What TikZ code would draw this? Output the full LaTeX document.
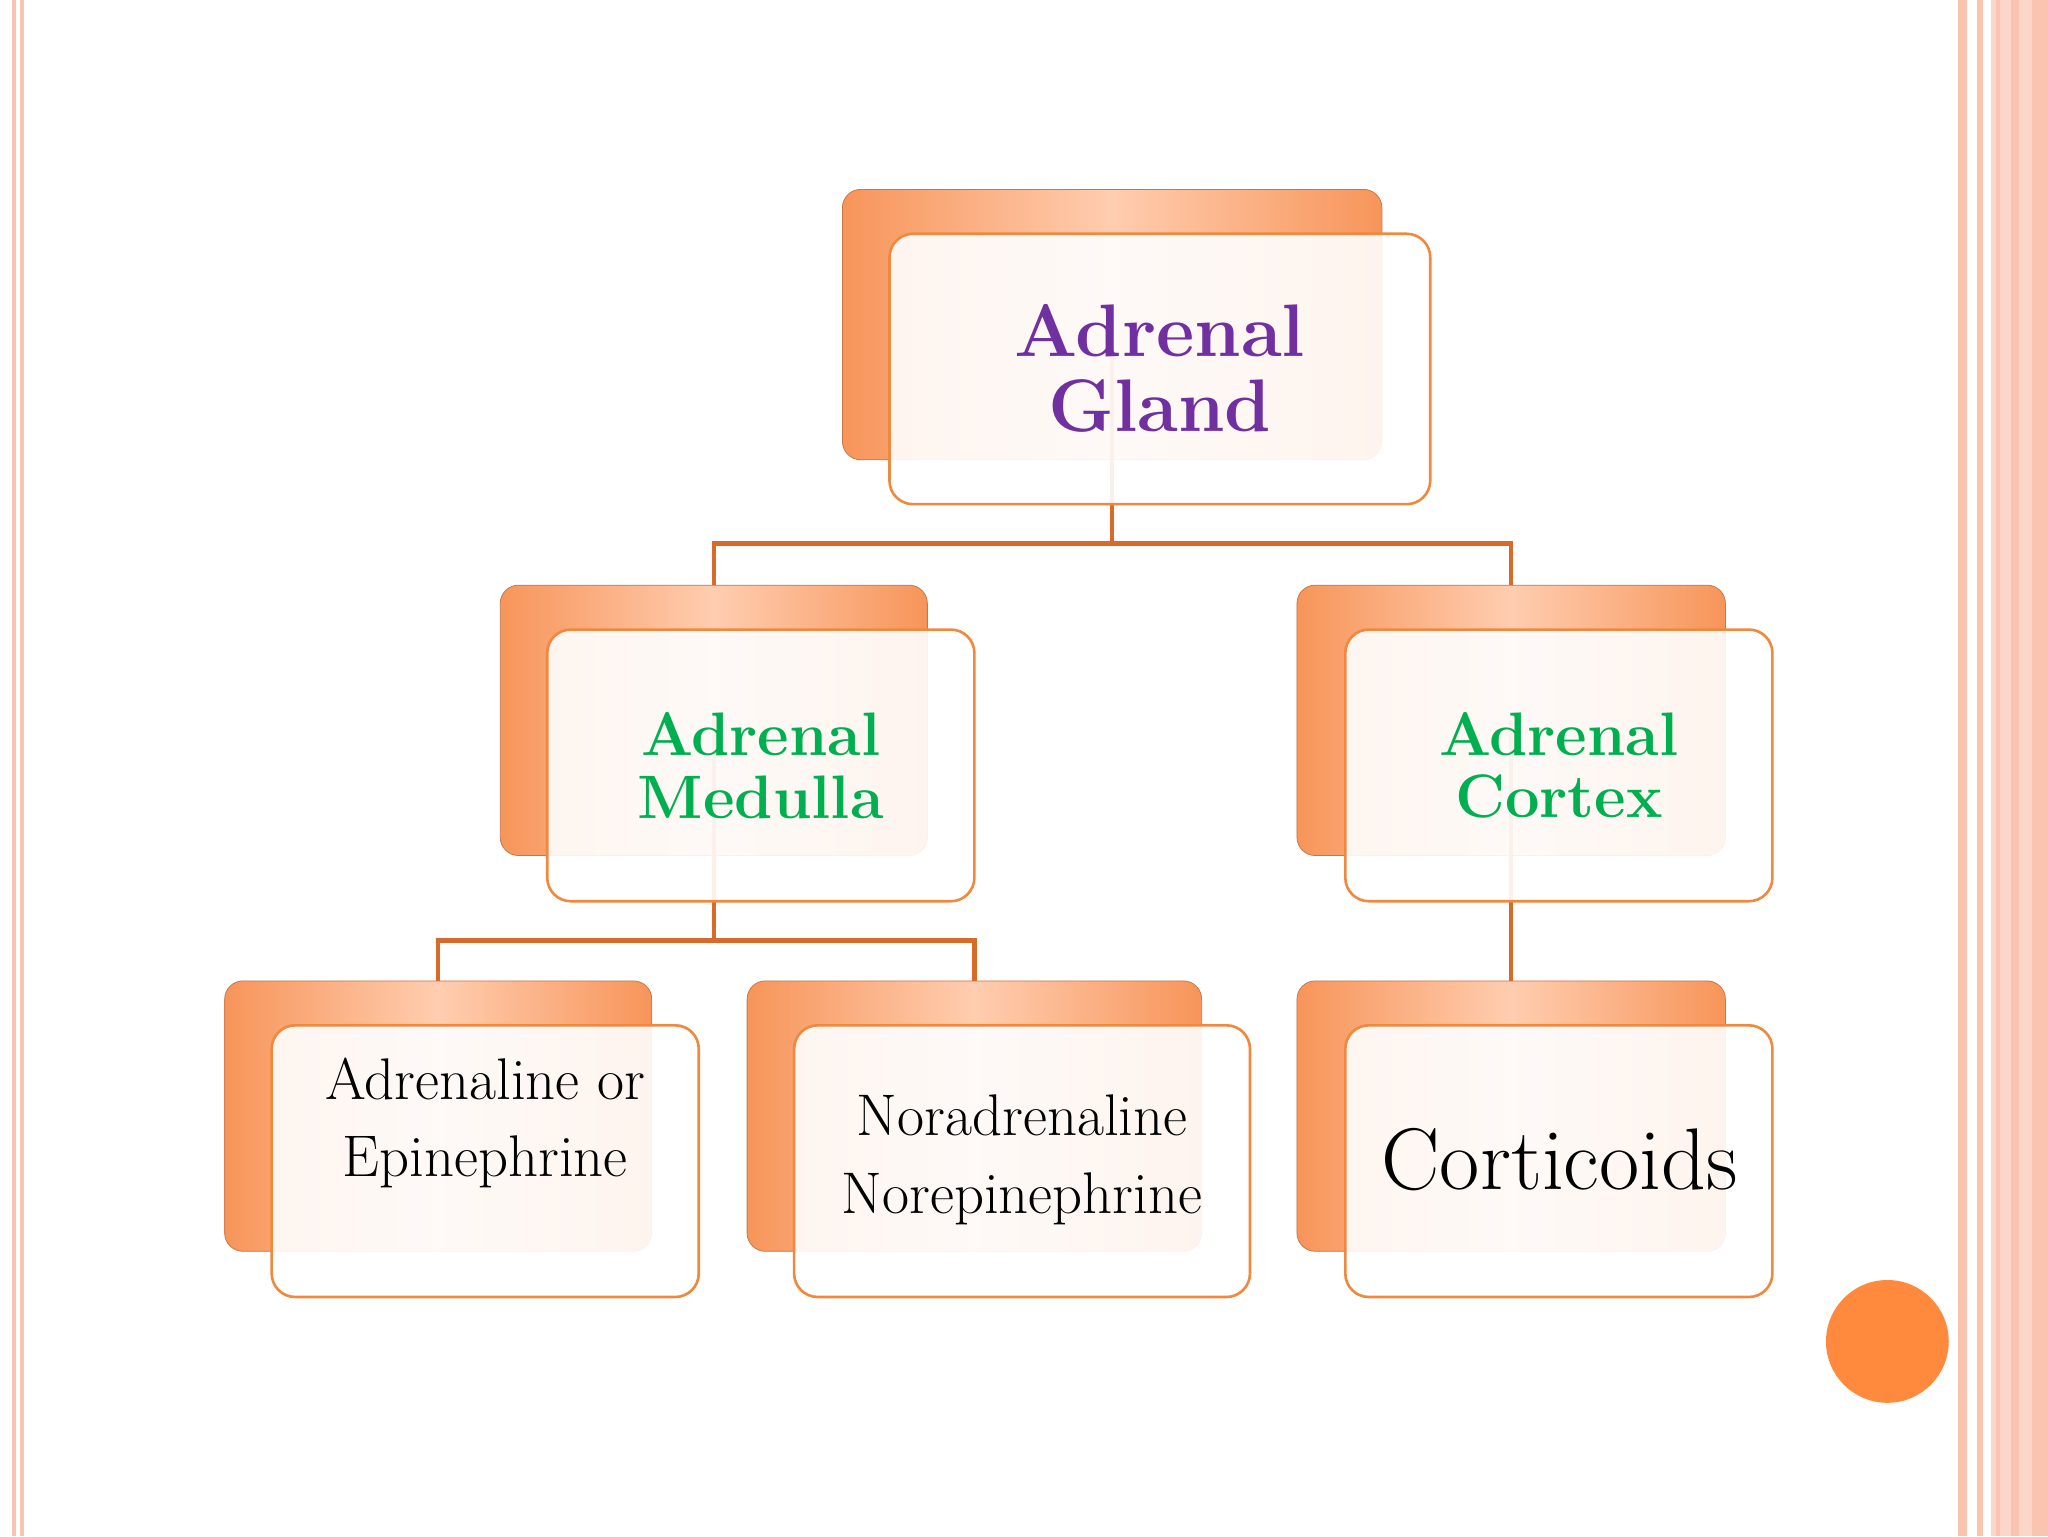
\documentclass[tikz,border=0pt]{standalone}
\usetikzlibrary{positioning}
\definecolor{bord}{HTML}{FBC4B0}
\definecolor{conn}{HTML}{D86B2A}
\definecolor{fedge}{HTML}{F0883E}
\definecolor{orA}{HTML}{F7955A}
\definecolor{orB}{HTML}{FFCDB0}
\definecolor{purp}{HTML}{7030A0}
\definecolor{grn}{HTML}{00B050}
\definecolor{dot}{HTML}{FF8A3D}
\tikzset{
  backbox/.style={rounded corners=14pt, left color=orA, right color=orA, middle color=orB, draw=orA!80!black, line width=0.6pt, inner sep=0pt},
  frontbox/.style={rounded corners=18pt, fill=white, fill opacity=0.9, draw=fedge, line width=2pt, text opacity=1, inner sep=0pt, align=center},
  conline/.style={draw=conn, line width=3.5pt},
  txt/.style={inner sep=0pt, align=center},
}
\begin{document}
\begin{tikzpicture}[x=1pt,y=-1pt]
\useasboundingbox (0,0) rectangle (1568,1176);
\fill[white] (0,0) rectangle (1568,1176);
% borders
\fill[bord] (9,0) rectangle (12,1176);
\fill[bord] (15,0) rectangle (18,1176);
\fill[bord] (1499,0) rectangle (1506,1176);
\fill[bord] (1514,0) rectangle (1518,1176);
\fill[bord!70] (1524,0) rectangle (1568,1176);
\fill[bord] (1528,0) rectangle (1531,1176);
\fill[bord] (1540,0) rectangle (1546,1176);
\fill[bord] (1556,0) rectangle (1568,1176);
\fill[dot] (1445,1027) circle (47);
% back boxes
\node[backbox, minimum width=413, minimum height=207] (b1) at (851.5,248.5) {};
\node[backbox, minimum width=327, minimum height=207] (b2) at (546.5,551.5) {};
\node[backbox, minimum width=328, minimum height=207] (b3) at (1157,551.5) {};
\node[backbox, minimum width=327, minimum height=207] (b4) at (335.5,854.5) {};
\node[backbox, minimum width=348, minimum height=207] (b5) at (746,854.5) {};
\node[backbox, minimum width=328, minimum height=207] (b6) at (1157,854.5) {};
% connectors
\coordinate (j1) at (851.5,416);
\coordinate (j2) at (546.5,720);
\draw[conline] (b1.center) -- (j1) -| (b2.north);
\draw[conline] (j1) -| (b3.north);
\draw[conline] (b2.center) -- (j2) -| (b4.north);
\draw[conline] (j2) -| (b5.north);
\draw[conline] (b3.center) -- (b6.north);
% front boxes
\node[frontbox, minimum width=414, minimum height=207] (f1) at (888,282.5) {};
\node[frontbox, minimum width=327, minimum height=208] (f2) at (582.5,586) {};
\node[frontbox, minimum width=327, minimum height=208] (f3) at (1193.5,586) {};
\node[frontbox, minimum width=327, minimum height=208] (f4) at (371.5,889) {};
\node[frontbox, minimum width=349, minimum height=208] (f5) at (782.5,889) {};
\node[frontbox, minimum width=327, minimum height=208] (f6) at (1193.5,889) {};
% texts
\node[txt, text=purp, font=\fontsize{57}{57}\selectfont\bfseries] (t1) at (888,282) {Adrenal\\Gland};
\node[txt, text=grn, font=\fontsize{47}{48}\selectfont\bfseries] (t2) at (582.5,586) {Adrenal\\Medulla};
\node[txt, text=grn, font=\fontsize{47}{48}\selectfont\bfseries] (t3) at (1193.5,586) {Adrenal\\Cortex};
\node[txt, font=\fontsize{45}{59}\selectfont] (t4) at (371.5,860) {Adrenaline or\\Epinephrine};
\node[txt, font=\fontsize{45}{59}\selectfont] (t5) at (782.5,888) {Noradrenaline\\Norepinephrine};
\node[txt, font=\fontsize{67}{67}\selectfont] (t6) at (1194,888) {Corticoids};
\end{tikzpicture}
\end{document}
